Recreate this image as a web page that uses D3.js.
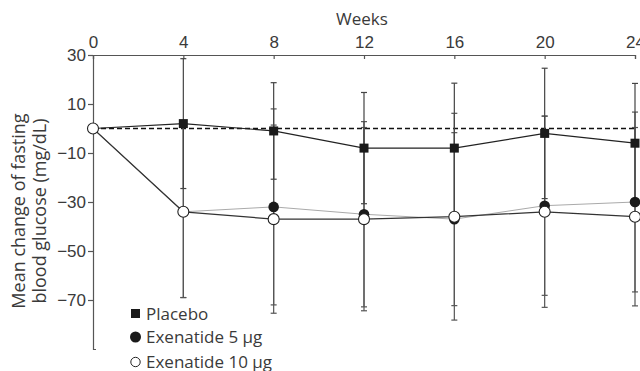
<!DOCTYPE html>
<html>
<head>
<meta charset="utf-8">
<script src="https://cdn.jsdelivr.net/npm/d3@7"></script>
<style>
  html, body { margin: 0; padding: 0; background: #fff; }
  svg { display: block; font-family: "Open Sans", "DejaVu Sans", sans-serif; }
  .axis text { font-size: 17px; fill: #3a3a3a; }
  .axis path, .axis line { stroke: #555; stroke-width: 1.2; }
</style>
</head>
<body>
<svg id="chart" width="640" height="371"></svg>
<script>
// Study weeks
const weeks = [0, 4, 8, 12, 16, 20, 24];

// Mean change of fasting blood glucose (mg/dL) and SD per group
const placeboMean = [0, 2, -1, -8, -8, -2, -6];
const placeboSD   = [0, 26.5, 19.7, 22.7, 26.5, 26.6, 24.4];
const exe5Mean    = [0, -34, -32, -35, -37, -31.5, -30];
const exe5SD      = [0, 35, 40, 37.8, 35.3, 36.6, 36.7];
const exe10Mean   = [0, -34, -37, -37, -36, -34, -36];
const exe10SD     = [0, 35, 38.4, 37.4, 42.2, 39, 36.4];

const yTicks = [30, 10, -10, -30, -50, -70];
const legendLabels = ["Placebo", "Exenatide 5 \u00b5g", "Exenatide 10 \u00b5g"];

const svg = d3.select("#chart");

const x = d3.scaleLinear().domain([0, 24]).range([93, 635]);
const y = d3.scaleLinear().domain([-90, 30]).range([349, 55]);

const fmt = d => (d < 0 ? "\u2212" + Math.abs(d) : String(d));

// Top (weeks) axis
const xAxis = d3.axisTop(x).tickValues(weeks).tickSize(-4).tickSizeOuter(-4).tickPadding(7);
svg.append("g").attr("class", "axis").attr("transform", `translate(0,${y(30)})`).call(xAxis);

svg.append("text")
  .attr("x", 362).attr("y", 25)
  .attr("text-anchor", "middle")
  .style("font-size", "17px").style("fill", "#3a3a3a")
  .text("Weeks");

// Left axis
const yAxis = d3.axisLeft(y).tickValues(yTicks).tickFormat(fmt).tickSize(5).tickSizeOuter(-3).tickPadding(2);
svg.append("g").attr("class", "axis").attr("transform", `translate(${x(0)},0)`).call(yAxis);

const yTitle = svg.append("text")
  .attr("transform", "translate(0,211) rotate(-90)")
  .attr("text-anchor", "middle")
  .style("font-size", "18px").style("fill", "#3a3a3a");
yTitle.append("tspan").attr("x", 0).attr("y", 25).text("Mean change of fasting");
yTitle.append("tspan").attr("x", 0).attr("y", 46).text("blood glucose (mg/dL)");

// Zero reference line
svg.append("line")
  .attr("x1", x(0)).attr("x2", x(24))
  .attr("y1", y(0)).attr("y2", y(0))
  .attr("stroke", "#111").attr("stroke-width", 1.3)
  .attr("stroke-dasharray", "5,3");

// Error bars
function errorBars(means, sds, color) {
  const g = svg.append("g").attr("stroke", color).attr("stroke-width", 1.2);
  weeks.forEach((w, i) => {
    if (sds[i] === 0) return;
    const top = y(means[i] + sds[i]), bot = y(means[i] - sds[i]), cx = x(w);
    g.append("line").attr("x1", cx).attr("x2", cx).attr("y1", top).attr("y2", bot);
    g.append("line").attr("x1", cx - 3).attr("x2", cx + 3).attr("y1", top).attr("y2", top);
    g.append("line").attr("x1", cx - 3).attr("x2", cx + 3).attr("y1", bot).attr("y2", bot);
  });
}
errorBars(exe10Mean, exe10SD, "#555");
errorBars(exe5Mean, exe5SD, "#555");
errorBars(placeboMean, placeboSD, "#444");

// Group lines
const line = d3.line().x((d, i) => x(weeks[i])).y(d => y(d));
svg.append("path").attr("d", line(exe5Mean)).attr("fill", "none").attr("stroke", "#aaa").attr("stroke-width", 1);
svg.append("path").attr("d", line(exe10Mean)).attr("fill", "none").attr("stroke", "#333").attr("stroke-width", 1.2);
svg.append("path").attr("d", line(placeboMean)).attr("fill", "none").attr("stroke", "#222").attr("stroke-width", 1.2);

// Markers (week 0 shared baseline drawn as the open circle)
svg.append("g").selectAll("rect")
  .data(placeboMean.slice(1)).join("rect")
  .attr("x", (d, i) => x(weeks[i + 1]) - 4.5).attr("y", d => y(d) - 4.5)
  .attr("width", 9).attr("height", 9).attr("fill", "#1a1a1a");

svg.append("g").selectAll("circle")
  .data(exe5Mean.slice(1)).join("circle")
  .attr("cx", (d, i) => x(weeks[i + 1])).attr("cy", d => y(d))
  .attr("r", 5.3).attr("fill", "#1a1a1a");

svg.append("g").selectAll("circle")
  .data(exe10Mean).join("circle")
  .attr("cx", (d, i) => x(weeks[i])).attr("cy", d => y(d))
  .attr("r", 5.5).attr("fill", "#fff").attr("stroke", "#222").attr("stroke-width", 1.1);

// Legend
const legend = svg.append("g").style("font-size", "17px").style("fill", "#3a3a3a");
const ly = [313.5, 337, 362];
legend.append("rect").attr("x", 131).attr("y", ly[0] - 4.5).attr("width", 9).attr("height", 9).attr("fill", "#1a1a1a");
legend.append("circle").attr("cx", 135.5).attr("cy", ly[1]).attr("r", 5.5).attr("fill", "#1a1a1a");
legend.append("circle").attr("cx", 135.5).attr("cy", ly[2]).attr("r", 4.7).attr("fill", "#fff").attr("stroke", "#222").attr("stroke-width", 1);
legendLabels.forEach((t, i) => {
  legend.append("text").attr("x", 146).attr("y", ly[i]).attr("dy", "0.36em").text(t);
});
</script>
</body>
</html>
